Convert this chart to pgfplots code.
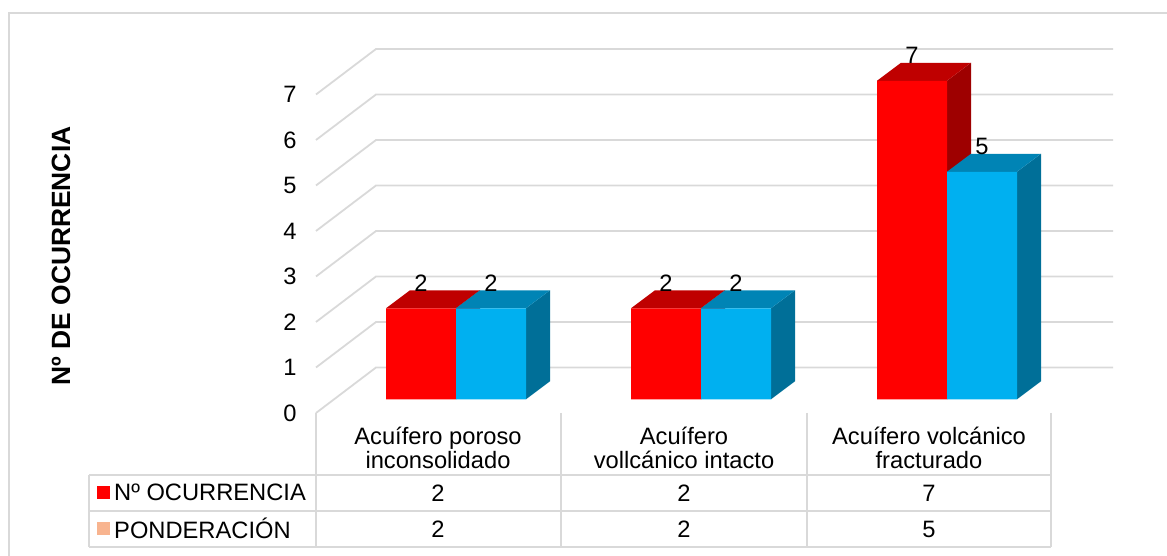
\documentclass[border=0pt]{standalone}
\usepackage{pgfplots}
\usepackage{fontspec}
\setmainfont{Liberation Sans}
\pgfplotsset{compat=1.18}

\definecolor{gridgray}{HTML}{D9D9D9}
\definecolor{redfront}{HTML}{FF0000}
\definecolor{redtop}{HTML}{BF0000}
\definecolor{redside}{HTML}{9E0000}
\definecolor{bluefront}{HTML}{00B0F0}
\definecolor{bluetop}{HTML}{0084B5}
\definecolor{blueside}{HTML}{006F98}
\definecolor{keyorange}{HTML}{F8B48F}

% Page coordinates: origin top left, one unit per point.
\newcommand{\pg}[2]{({#1pt},{(556-#2)*1pt})}
\newcommand{\labelfont}{\fontsize{23.7}{23.5}\selectfont}

% Depth of a bar: 24 along x, 0.396 value units along y.
\newcommand{\barfaces}[4]{%
  % #1 left edge, #2 value, #3 top colour, #4 side colour
  \pgfmathsetmacro{\xa}{#1}
  \pgfmathsetmacro{\xb}{#1+70}
  \pgfmathsetmacro{\xc}{#1+24}
  \pgfmathsetmacro{\xd}{#1+94}
  \pgfmathsetmacro{\yb}{#2+0.396}
  \addplot[fill=#4,draw=none,forget plot] coordinates {(\xb,0) (\xd,0.396) (\xd,\yb) (\xb,#2)} -- cycle;
  \addplot[fill=#3,draw=none,forget plot] coordinates {(\xa,#2) (\xb,#2) (\xd,\yb) (\xc,\yb)} -- cycle;
}

\begin{document}
\begin{tikzpicture}[x=1pt,y=1pt]
\path[use as bounding box] (0,0) rectangle (1167,556);

% Walls of the chart, with value labels on the front edge
\begin{axis}[
  at={(316pt,143pt)}, anchor=south west, scale only axis,
  x=1pt, y=45.5pt,
  xmin=316, xmax=1167, ymin=0, ymax=8,
  clip=false, axis line style={draw=none}, tick style={draw=none},
  ytick={0,1,2,3,4,5,6,7},
  xtick={438,684,929},
  xticklabels={{Acuífero poroso\\inconsolidado},{Acuífero\\vollcánico intacto},{Acuífero volcánico\\fracturado}},
  xticklabel style={align=center,font=\labelfont,yshift=-12pt,inner sep=2pt},
  yticklabel style={font=\labelfont,xshift=-16pt},
  /pgf/number format/assume math mode=true,
]
\pgfplotsinvokeforeach{0,...,7}{
  \addplot[gridgray,line width=1.8pt,forget plot] coordinates {(316,#1) (376,#1+1) (1113,#1+1)};
}
\end{axis}

% Columns
\begin{axis}[
  at={(316pt,156.7pt)}, anchor=south west, scale only axis,
  x=1pt, y=45.5pt,
  xmin=316, xmax=1167, ymin=0, ymax=8,
  clip=false, axis lines=none,
]
\barfaces{386}{2}{redtop}{redside}
\barfaces{631}{2}{redtop}{redside}
\barfaces{877}{7}{redtop}{redside}
\addplot[ybar,bar width=70pt,bar shift=-35pt,fill=redfront,draw=none,forget plot]
  coordinates {(456,2) (701,2) (947,7)};
\barfaces{456}{2}{bluetop}{blueside}
\barfaces{701}{2}{bluetop}{blueside}
\barfaces{947}{5}{bluetop}{blueside}
\addplot[ybar,bar width=70pt,bar shift=35pt,fill=bluefront,draw=none,forget plot]
  coordinates {(456,2) (701,2) (947,5)};
\node[font=\labelfont] at (axis cs:421,2.55) {2};
\node[font=\labelfont] at (axis cs:491,2.55) {2};
\node[font=\labelfont] at (axis cs:666,2.55) {2};
\node[font=\labelfont] at (axis cs:736,2.55) {2};
\node[font=\labelfont] at (axis cs:912,7.55) {7};
\node[font=\labelfont] at (axis cs:982,5.55) {5};
\end{axis}

% Data table below the columns
\begin{scope}[gridgray,line width=1.8pt]
  \draw \pg{89}{475} -- \pg{1051}{475};
  \draw \pg{89}{511} -- \pg{1051}{511};
  \draw \pg{89}{547} -- \pg{1051}{547};
  \draw \pg{89}{475} -- \pg{89}{547};
  \foreach \c in {316,561,807,1051} {\draw \pg{\c}{413} -- \pg{\c}{547};}
\end{scope}
\fill[redfront] \pg{97}{486} rectangle \pg{110}{499};
\fill[keyorange] \pg{97}{522} rectangle \pg{110}{535};
\node[anchor=west,inner sep=0pt,font=\labelfont] at \pg{114}{492} {Nº OCURRENCIA};
\node[anchor=west,inner sep=0pt,font=\labelfont] at \pg{114}{528} {PONDERACIÓN};
\foreach \c/\a/\b in {438/2/2,684/2/2,929/7/5} {
  \node[font=\labelfont] at \pg{\c}{493} {\a};
  \node[font=\labelfont] at \pg{\c}{529} {\b};
}

% Axis title
\node[rotate=90,font=\fontsize{26.4}{28}\selectfont\bfseries] at \pg{61}{256} {Nº DE OCURRENCIA};

% Chart frame
\draw[gridgray,line width=1.8pt] \pg{9}{556} -- \pg{9}{13} -- \pg{1167}{13};
\end{tikzpicture}
\end{document}
